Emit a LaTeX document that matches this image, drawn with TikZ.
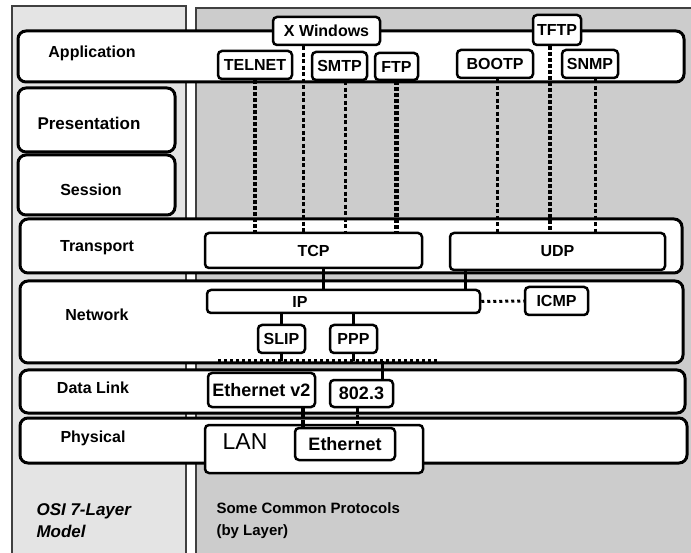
\documentclass[tikz,border=0pt]{standalone}
\usepackage{fontspec}
\setmainfont{Liberation Sans}
\usepackage{xcolor}
\usepackage{tikz}
\usetikzlibrary{positioning}
\definecolor{osipanel}{HTML}{E4E4E4}
\definecolor{protopanel}{HTML}{CCCCCC}
\definecolor{panelrule}{HTML}{404040}

\tikzset{
  layerbox/.style={draw=black, line width=3, rounded corners=8, fill=white},
  layerlabel/.style={font=\fontsize{16}{18}\selectfont\bfseries},
  protobox/.style={draw=black, line width=2.5, rounded corners=4, fill=white,
    inner sep=0, font=\fontsize{16}{18}\selectfont\bfseries},
  bigproto/.style={protobox, font=\fontsize{18}{20}\selectfont\bfseries},
  thickdash/.style={line width=4.5, dash pattern=on 4 off 2},
  thindash/.style={line width=3, dash pattern=on 4 off 2.5},
  busdot/.style={line width=3, dash pattern=on 3 off 3},
  linkline/.style={line width=3}
}

\begin{document}
\begin{tikzpicture}[x=1pt, y=-1pt]
    \useasboundingbox[fill=white] (0,0) rectangle (691,553);

    % Two panels
    \fill[osipanel, draw=panelrule, line width=2] (12,6) rectangle (186,560);
    \fill[protopanel, draw=panelrule, line width=2] (196,8) rectangle (700,560);

    % OSI layers
    \draw[layerbox] (18,31) rectangle (684,82);
    \draw[layerbox] (18,88) rectangle (175,152);
    \draw[layerbox] (18,155) rectangle (175,215);
    \draw[layerbox] (20,219) rectangle (682,273);
    \draw[layerbox] (20,281) rectangle (683,363);
    \draw[layerbox] (20,370) rectangle (685,413);
    \draw[layerbox] (20,418) rectangle (687,463);

    \node[layerlabel] (application) at (92,53) {Application};
    \node[layerlabel, font=\fontsize{17}{19}\selectfont\bfseries] (presentation) at (89,123) {Presentation};
    \node[layerlabel] (session) at (91,190) {Session};
    \node[layerlabel] (transport) at (97,248) {Transport};
    \node[layerlabel] (network) at (97,315) {Network};
    \node[layerlabel] (datalink) at (93,388) {Data Link};
    \node[layerlabel] (physical) at (93,438) {Physical};

    % Application protocols
    \node[protobox, minimum width=107, minimum height=28] (xwin) at (326.5,31) {X Windows};
    \node[protobox, minimum width=74, minimum height=28] (telnet) at (255,65) {TELNET};
    \node[protobox, minimum width=55, minimum height=28] (smtp) at (339.5,66) {SMTP};
    \node[protobox, minimum width=43, minimum height=27] (ftp) at (396.5,66.5) {FTP};
    \node[protobox, minimum width=76, minimum height=28] (bootp) at (495,64) {BOOTP};
    \node[protobox, minimum width=48, minimum height=30] (tftp) at (557,30) {TFTP};
    \node[protobox, minimum width=56, minimum height=28] (snmp) at (590,64) {SNMP};

    % Transport
    \node[protobox, minimum width=217, minimum height=35] (tcp) at (313.5,250.5) {TCP};
    \node[protobox, minimum width=215, minimum height=37] (udp) at (557.5,251.5) {UDP};

    \draw[thindash] ([xshift=-23.5pt]xwin.south) -- ([xshift=-23.5pt]xwin.south |- tcp.north);
    \draw[thickdash] (telnet.south) -- (telnet.south |- tcp.north);
    \draw[thindash] ([xshift=5.5pt]smtp.south) -- ([xshift=5.5pt]smtp.south |- tcp.north);
    \draw[thickdash] (ftp.south) -- (ftp.south |- tcp.north);
    \draw[thindash] ([xshift=2pt]bootp.south) -- ([xshift=2pt]bootp.south |- udp.north);
    \draw[thickdash] ([xshift=-7pt]tftp.south) -- ([xshift=-7pt]tftp.south |- udp.north);
    \draw[thindash] ([xshift=5pt]snmp.south) -- ([xshift=5pt]snmp.south |- udp.north);

    % Network
    \node[protobox, minimum width=273, minimum height=23] (ip) at (343.5,301.5) {};
    \node[font=\fontsize{16}{18}\selectfont\bfseries] (iptext) at (300,301.5) {IP};
    \node[protobox, minimum width=63, minimum height=28] (icmp) at (556.5,301) {ICMP};
    \node[protobox, minimum width=47, minimum height=28] (slip) at (281.5,339) {SLIP};
    \node[protobox, minimum width=47, minimum height=28] (ppp) at (353.5,339) {PPP};
    \coordinate (busw) at (218,361);
    \coordinate (buse) at (437,361);

    \draw[linkline] ([xshift=9.5pt]tcp.south) -- ([xshift=9.5pt]tcp.south |- ip.north);
    \draw[linkline] ([xshift=17pt]udp.south west) -- ([xshift=17pt]udp.south west |- ip.north);
    \draw[busdot] (ip.east) -- (icmp.west);
    \draw[linkline] (slip.north) -- (slip.north |- ip.south);
    \draw[linkline] (ppp.north) -- (ppp.north |- ip.south);
    \draw[busdot] (busw) -- (buse);
    \draw[linkline] (slip.south) -- (slip.south |- busw);
    \draw[linkline] (ppp.south) -- (ppp.south |- busw);

    % Data link
    \node[bigproto, minimum width=107, minimum height=34] (ethv2) at (261.5,390) {Ethernet v2};
    \node[bigproto, minimum width=63, minimum height=27] (e8023) at (361.5,393.5) {802.3};
    \draw[linkline] ([xshift=20.5pt]e8023.north) -- ([xshift=20.5pt]e8023.north |- busw);

    % Physical
    \node[protobox, minimum width=218, minimum height=48] (lan) at (314,449) {};
    \node[font=\fontsize{23}{25}\selectfont] (lantext) at (245,442) {LAN};
    \node[bigproto, minimum width=100, minimum height=32] (ether) at (345,444) {Ethernet};
    \draw[thickdash] ([xshift=41.5pt]ethv2.south) -- ([xshift=41.5pt]ethv2.south |- ether.north);
    \draw[thindash] ([xshift=-4.5pt]e8023.south) -- ([xshift=-4.5pt]e8023.south |- ether.north);

    % Panel captions
    \node[anchor=west, align=left, font=\fontsize{17}{22}\selectfont\bfseries\itshape] (osicap) at (33,521) {OSI 7-Layer\\Model};
    \node[anchor=west, align=left, font=\fontsize{15}{22}\selectfont\bfseries] (protocap) at (213,521) {Some Common Protocols\\(by Layer)};
\end{tikzpicture}
\end{document}
